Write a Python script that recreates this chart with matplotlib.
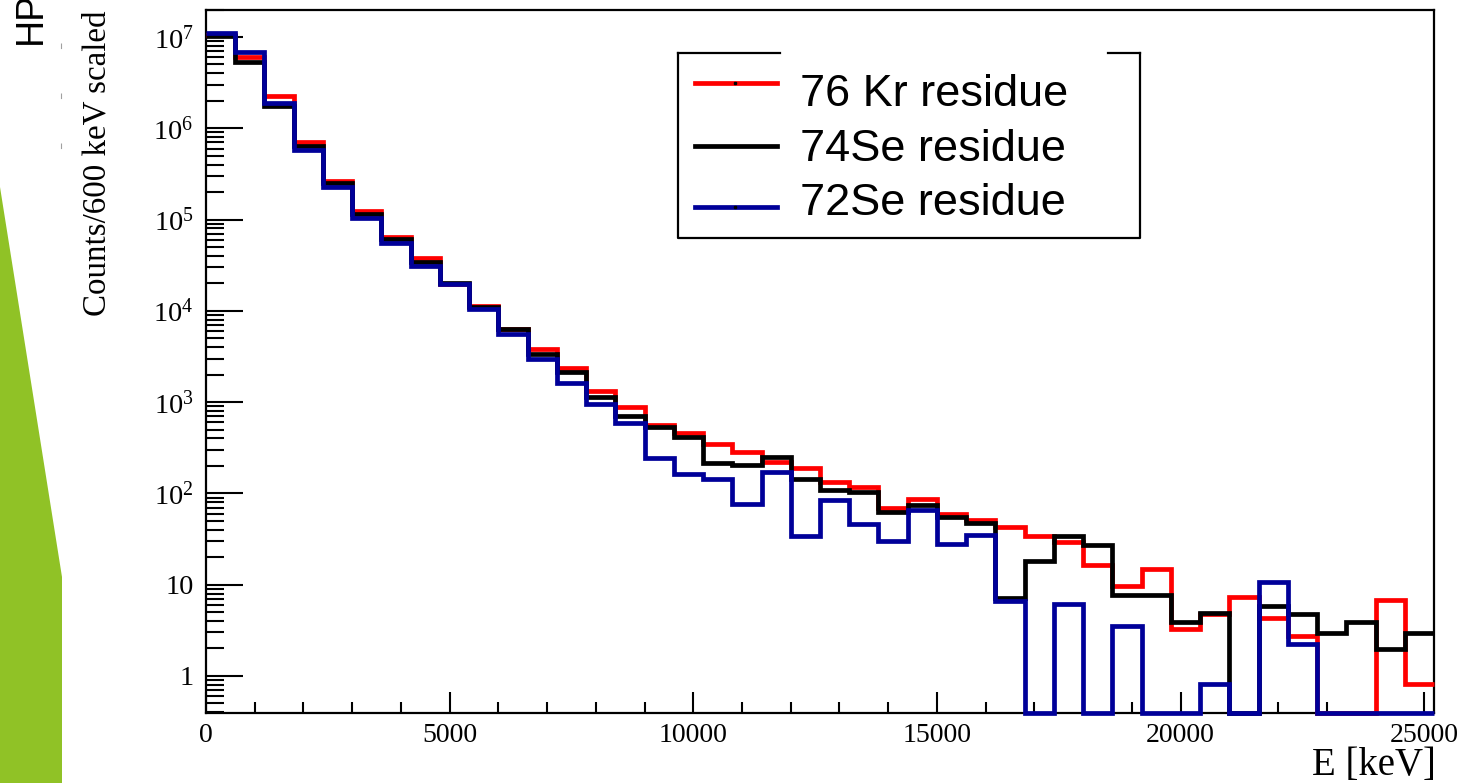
import numpy as np
import matplotlib
matplotlib.use("Agg")
import matplotlib.pyplot as plt
from matplotlib.ticker import FixedLocator, FuncFormatter, NullFormatter, LogLocator, MultipleLocator
from matplotlib.patches import Polygon
from matplotlib.lines import Line2D

plt.rcParams['mathtext.fontset'] = 'custom'
plt.rcParams['mathtext.rm'] = 'Liberation Serif'
plt.rcParams['mathtext.it'] = 'Liberation Serif:italic'

# ---- histogram data: 42 bins of 600 keV, counts per bin (scaled) ----
bin_width_kev = 600
n_bins = 42
kr76_residue = [1.05e7, 6.0e6, 2.25e6, 7.0e5, 2.64e5, 1.25e5, 6.5e4, 3.76e4, 1.97e4, 1.14e4,
                6.4e3, 3.8e3, 2.34e3, 1.32e3, 8.8e2, 5.6e2, 4.55e2, 3.5e2, 2.86e2, 2.2e2,
                1.88e2, 1.35e2, 1.18e2, 69, 86, 60, 51, 43, 34, 29.5,
                16.4, 9.6, 14.9, 3.25, 4.8, 7.4, 4.3, 2.76, 0, 0, 6.8, 0.81]
se74_residue = [1.02e7, 5.3e6, 1.75e6, 6.4e5, 2.49e5, 1.16e5, 6.2e4, 3.45e4, 2.0e4, 1.1e4,
                6.3e3, 3.4e3, 2.15e3, 1.15e3, 7.0e2, 5.4e2, 4.1e2, 2.15e2, 2.04e2, 2.5e2,
                1.44e2, 1.1e2, 1.04e2, 62, 75, 55, 48, 7.1, 18.4, 34,
                27, 7.8, 7.8, 3.93, 4.85, 0, 5.85, 4.8, 2.98, 3.87, 1.98, 2.98]
se72_residue = [1.1e7, 6.8e6, 1.9e6, 5.8e5, 2.25e5, 1.03e5, 5.6e4, 3.1e4, 1.95e4, 1.04e4,
                5.6e3, 3.0e3, 1.6e3, 9.5e2, 5.9e2, 2.45e2, 1.63e2, 1.45e2, 77, 1.72e2,
                34, 85, 46, 30, 66, 28, 35, 6.6, 0, 6.1,
                0, 3.5, 0, 0, 0.81, 0, 10.6, 2.25, 0, 0, 0, 0]
series_labels = ["76 Kr residue", "74Se residue", "72Se residue"]
series_colors = ["#ff0000", "#000000", "#000099"]
x_tick_values = [0, 5000, 10000, 15000, 20000, 25000]
y_tick_values = [1, 10, 1e2, 1e3, 1e4, 1e5, 1e6, 1e7]

W, H = 1464, 783
fig = plt.figure(figsize=(W / 100, H / 100), dpi=100)

def fx(px):
    return px / W

def fy(py):
    return 1 - py / H

# slide decoration on the left edge
green = Polygon([(fx(0), fy(187)), (fx(62), fy(577)), (fx(62), fy(783)), (fx(0), fy(783))],
                closed=True, transform=fig.transFigure, facecolor="#90C226", edgecolor="none")
fig.patches.append(green)
fig.add_artist(Line2D([fx(61), fx(61)], [fy(43), fy(167)], transform=fig.transFigure,
                      color="#a0a0a0", lw=0.8, linestyle=(0, (5, 40))))
fig.text(fx(41), fy(44), "HP", rotation=90, rotation_mode="anchor", ha="left", va="baseline",
         fontsize=27, family="Liberation Sans", color="black")

ax = fig.add_axes([fx(206), fy(713), (1434 - 206) / W, (713 - 9.5) / H])
ymin, ymax = 0.393, 2.0e7
edges = np.arange(n_bins + 1) * bin_width_kev

for vals, col in zip([kr76_residue, se74_residue, se72_residue], series_colors):
    v = np.clip(np.asarray(vals, dtype=float), ymin, None)
    ax.stairs(v, edges, baseline=None, color=col, lw=3.4, clip_on=False, zorder=3)

ax.set_yscale("log")
ax.set_xlim(0, edges[-1])
ax.set_ylim(ymin, ymax)

ax.xaxis.set_major_locator(FixedLocator(x_tick_values))
ax.xaxis.set_minor_locator(MultipleLocator(1000))
ax.xaxis.set_major_formatter(FuncFormatter(lambda v, p: f"{int(v)}"))
ax.yaxis.set_major_locator(FixedLocator(y_tick_values))
ax.yaxis.set_minor_locator(LogLocator(base=10, subs=np.arange(2, 10)))
ax.yaxis.set_minor_formatter(NullFormatter())

def ylab(v, p):
    e = int(round(np.log10(v)))
    if e == 0:
        return "1"
    if e == 1:
        return "10"
    return r"$\mathregular{10^{%d}}$" % e

ax.yaxis.set_major_formatter(FuncFormatter(ylab))

ax.tick_params(axis="both", which="both", direction="in", top=False, right=False,
               width=1.5, colors="black")
ax.tick_params(axis="y", which="major", length=26.5, pad=9, labelsize=20.5)
ax.tick_params(axis="y", which="minor", length=13.3)
ax.tick_params(axis="x", which="major", length=15.2, pad=7, labelsize=20)
ax.tick_params(axis="x", which="minor", length=7.6)
for lab in ax.get_xticklabels() + ax.get_yticklabels():
    lab.set_family("Liberation Serif")
for s in ax.spines.values():
    s.set_linewidth(1.6)

fig.text(fx(97), fy(10), "Counts/600 keV scaled", rotation=90, ha="center", va="top",
         fontsize=23.8, family="Liberation Serif")
fig.text(fx(1436), fy(775), "E [keV]", ha="right", va="baseline",
         fontsize=28, family="Liberation Serif")

# legend box (drawn by hand, top edge interrupted)
box = dict(transform=fig.transFigure, color="black", lw=1.6)
L, R, T, B = 678, 1140, 53, 238
fig.add_artist(Line2D([fx(L), fx(L), fx(R), fx(R)], [fy(T), fy(B), fy(B), fy(T)], **box))
fig.add_artist(Line2D([fx(L), fx(780)], [fy(T), fy(T)], **box))
fig.add_artist(Line2D([fx(1108), fx(R)], [fy(T), fy(T)], **box))
line_y = [83, 146, 207]
text_y = [90, 145, 199]
for lab, col, ly, ty in zip(series_labels, series_colors, line_y, text_y):
    fig.add_artist(Line2D([fx(695), fx(777)], [fy(ly), fy(ly)], transform=fig.transFigure,
                          color=col, lw=3.4))
    if col != "#000000":
        fig.add_artist(Line2D([fx(735)], [fy(ly)], transform=fig.transFigure, marker="s",
                              markersize=1.5, color="black", lw=0))
    fig.text(fx(800), fy(ty), lab, ha="left", va="center_baseline", fontsize=32.5,
             family="Liberation Sans")

fig.savefig("out.png", dpi=100)
